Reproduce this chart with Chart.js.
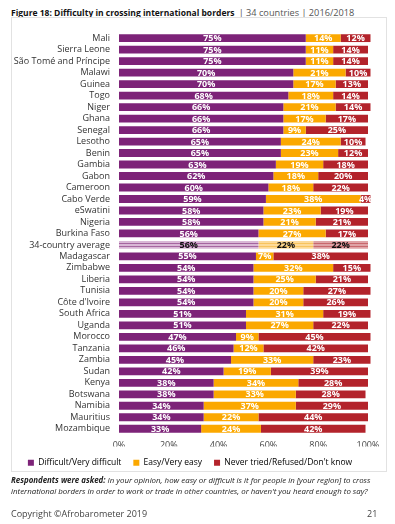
<!DOCTYPE html>
<html>
<head>
<meta charset="utf-8">
<script src="https://cdn.jsdelivr.net/npm/chart.js@4"></script>
<style>
  html, body { margin: 0; padding: 0; background: #fff; }
  body { width: 395px; height: 524px; position: relative; overflow: hidden; font-family: "Open Sans", "DejaVu Sans", sans-serif; }
  #title { position: absolute; left: 11px; top: 4px; line-height: 12px; color: #222; white-space: nowrap; }
  #title b { font-weight: 700; color: #111; font-size: 8.5px; }
  #title span { color: #555; font-size: 9.2px; }
  #frame { position: absolute; left: 11px; top: 17px; width: 376px; height: 455px; border: 1px solid #e2e2e2; box-sizing: border-box; }
  #wrap { position: absolute; left: 12px; top: 18px; width: 374px; height: 459px; }
  #q { position: absolute; left: 11px; top: 475px; width: 385px; font-size: 7.9px; line-height: 11px; font-style: italic; color: #222; }
  #q b { font-weight: 700; }
  #copy { position: absolute; left: 11px; top: 507px; font-size: 9px; color: #444; }
  #page { position: absolute; left: 367px; top: 507px; font-size: 9px; color: #444; }
</style>
</head>
<body>
<div id="title"><b>Figure 18: Difficulty in crossing international borders</b> <span>| 34 countries | 2016/2018</span></div>
<div id="frame"></div>
<div id="wrap"><canvas id="c"></canvas></div>
<div id="q"><b>Respondents were asked:</b> In your opinion, how easy or difficult is it for people in [your region] to cross international borders in order to work or trade in other countries, or haven't you heard enough to say?</div>
<div id="copy">Copyright ©Afrobarometer 2019</div>
<div id="page">21</div>
<script>
const countries = ["Mali","Sierra Leone","São Tomé and Príncipe","Malawi","Guinea","Togo","Niger","Ghana","Senegal","Lesotho","Benin","Gambia","Gabon","Cameroon","Cabo Verde","eSwatini","Nigeria","Burkina Faso","34-country average","Madagascar","Zimbabwe","Liberia","Tunisia","Côte d'Ivoire","South Africa","Uganda","Morocco","Tanzania","Zambia","Sudan","Kenya","Botswana","Namibia","Mauritius","Mozambique"];
const difficult = [75,75,75,70,70,68,66,66,66,65,65,63,62,60,59,58,58,56,56,55,54,54,54,54,51,51,47,46,45,42,38,38,34,34,33];
const easy      = [14,11,11,21,17,18,21,17,9,24,23,19,18,18,38,23,21,27,22,7,32,25,20,20,31,27,9,12,33,19,34,33,37,22,24];
const never     = [12,14,14,10,13,14,14,17,25,10,12,18,20,22,4,19,21,17,22,38,15,21,27,26,19,22,45,42,23,39,28,28,29,44,42];
const seriesNames = ["Difficult/Very difficult","Easy/Very easy","Never tried/Refused/Don't know"];
const xTicks = ["0%","20%","40%","60%","80%","100%"];

const avgIndex = countries.indexOf("34-country average");
const colors = ["#7D2378","#FBA800","#B3232B"];
const lightColors = ["#D9B7D6","#FDDA98","#DFA3A6"];
const stripeColors = ["#A565A0","#F7C35E","#C8686D"];

function stripe(base, line) {
  const c = document.createElement('canvas');
  c.width = 4; c.height = 3;
  const g = c.getContext('2d');
  g.fillStyle = base; g.fillRect(0,0,4,3);
  g.fillStyle = line; g.fillRect(0,0,4,1);
  return g.createPattern(c, 'repeat');
}
const patterns = lightColors.map((b,i)=>stripe(b, stripeColors[i]));

const valueLabels = {
  id: 'valueLabels',
  afterDatasetsDraw(chart) {
    const ctx = chart.ctx;
    ctx.save();
    ctx.textAlign = 'center';
    ctx.textBaseline = 'middle';
    chart.data.datasets.forEach((ds, di) => {
      const meta = chart.getDatasetMeta(di);
      meta.data.forEach((el, i) => {
        const p = el.getCenterPoint();
        const isAvg = i === avgIndex;
        ctx.font = 'bold 9px "Open Sans", sans-serif';
        ctx.fillStyle = isAvg ? '#111' : '#fff';
        ctx.fillText(ds.data[i] + '%', p.x, p.y + 0.5);
      });
    });
    ctx.restore();
  }
};

const data = [difficult, easy, never];
new Chart(document.getElementById('c'), {
  type: 'bar',
  data: {
    labels: countries,
    datasets: data.map((d, k) => ({
      label: seriesNames[k],
      data: d,
      backgroundColor: (ctx) => ctx.dataIndex === avgIndex ? patterns[k] : colors[k],
      borderWidth: 0,
      clip: false,
      barPercentage: 0.68,
      categoryPercentage: 1.0
    }))
  },
  options: {
    indexAxis: 'y',
    responsive: true,
    maintainAspectRatio: false,
    animation: false,
    layout: { padding: { top: 9, right: 18, left: 0, bottom: 0 } },
    scales: {
      x: {
        stacked: true, min: 0, max: 100,
        grid: { display: false, drawTicks: false },
        border: { display: false },
        ticks: {
          stepSize: 20, padding: 6,
          color: '#444',
          font: { size: 9, family: '"Open Sans", sans-serif' },
          callback: (v, i) => xTicks[i]
        },
        afterFit: (s) => { s.height = 12; }
      },
      y: {
        stacked: true,
        grid: { display: false, drawTicks: false },
        border: { display: false },
        ticks: {
          padding: 9, color: '#333', autoSkip: false,
          font: { size: 9, family: '"Open Sans", sans-serif' }
        },
        afterFit: (s) => { s.width = 107; }
      }
    },
    plugins: {
      legend: {
        position: 'bottom',
        labels: {
          boxWidth: 6, boxHeight: 6, padding: 12,
          color: '#333',
          font: { size: 8.5, family: '"Open Sans", sans-serif' },
          generateLabels: (chart) => seriesNames.map((n, k) => ({
            text: n, fillStyle: colors[k], strokeStyle: colors[k], lineWidth: 0, datasetIndex: k
          }))
        }
      },
      tooltip: { enabled: false }
    }
  },
  plugins: [valueLabels]
});
</script>
</body>
</html>
